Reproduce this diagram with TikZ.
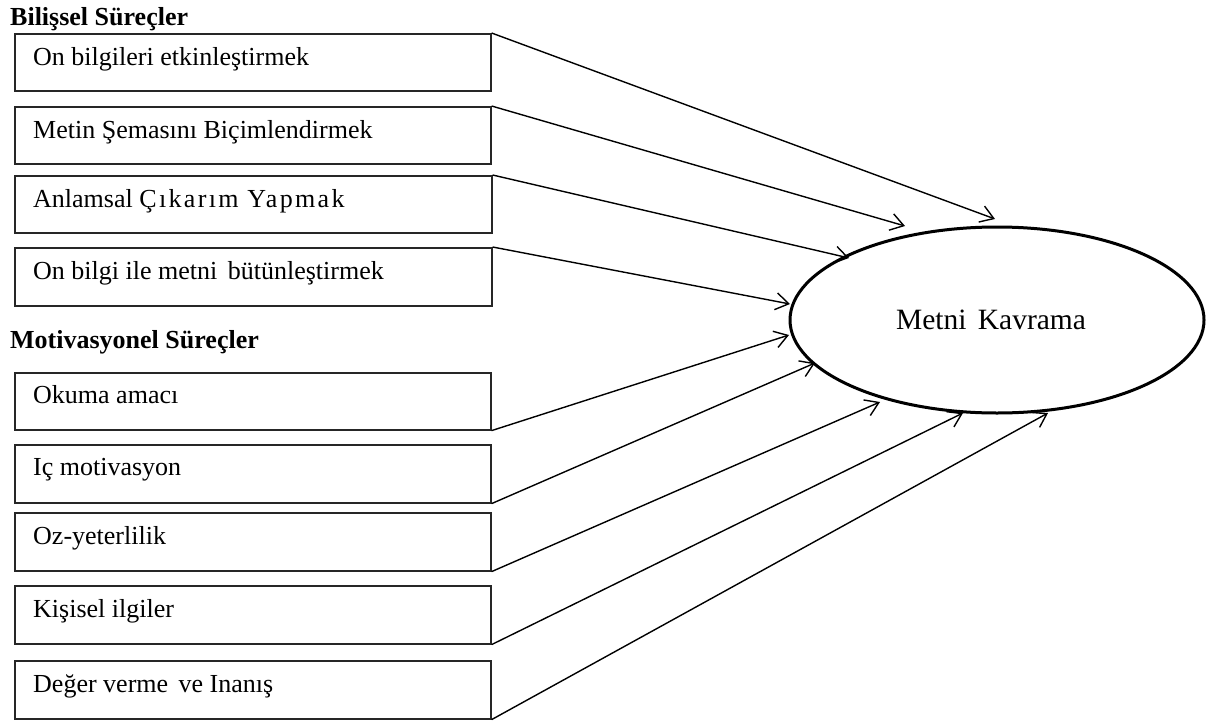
\documentclass[tikz,border=0pt]{standalone}
\usepackage{fontspec}
\setmainfont{Liberation Serif}
\usetikzlibrary{arrows.meta,shapes.geometric}
\begin{document}
\begin{tikzpicture}[x=1pt,y=-1pt,
  box/.style={draw=black!85,line width=1.6pt,rectangle,inner sep=0pt,anchor=north west},
  boxtext/.style={anchor=base west,inner sep=0pt,font=\fontsize{26}{30}\selectfont},
  head/.style={anchor=base west,inner sep=0pt,font=\fontsize{26}{30}\selectfont\bfseries},
  conn/.style={line width=1.4pt,-{Straight Barb[length=13pt,width=17pt,line width=1.4pt]}},
  goal/.style={draw,ellipse,line width=3pt,minimum width=414pt,minimum height=186pt,inner sep=0pt,font=\fontsize{29.5}{32}\selectfont}
]
\useasboundingbox (0,0) rectangle (1206,720);

\node[head] (h1) at (10,25) {Bilişsel Süreçler};
\node[head] (h2) at (10,348) {Motivasyonel Süreçler};

\node[box,minimum width=476pt,minimum height=57pt] (b1) at (14,33) {};
\node[box,minimum width=476pt,minimum height=57pt] (b2) at (14,106) {};
\node[box,minimum width=477pt,minimum height=57pt] (b3) at (14,175) {};
\node[box,minimum width=477pt,minimum height=58pt] (b4) at (14,247) {};
\node[box,minimum width=476pt,minimum height=57pt] (b5) at (14,372) {};
\node[box,minimum width=476pt,minimum height=58pt] (b6) at (14,444) {};
\node[box,minimum width=476pt,minimum height=58pt] (b7) at (14,512) {};
\node[box,minimum width=476pt,minimum height=58pt] (b8) at (14,585) {};
\node[box,minimum width=476pt,minimum height=58pt] (b9) at (14,660) {};

\node[boxtext] (t1) at (33,65) {On bilgileri etkinleştirmek};
\node[boxtext] (t2) at (33,138) {Metin Şemasını Biçimlendirmek};
\node[boxtext] (t3) at (33,207) {Anlamsal {\addfontfeature{LetterSpace=9}Çıkarım Yapmak}};
\node[boxtext] (t4) at (33,279) {On bilgi ile metni\hspace{4pt} bütünleştirmek};
\node[boxtext] (t5) at (33,403) {Okuma amacı};
\node[boxtext] (t6) at (33,475) {Iç motivasyon};
\node[boxtext] (t7) at (33,544) {Oz-yeterlilik};
\node[boxtext] (t8) at (33,617) {Kişisel ilgiler};
\node[boxtext] (t9) at (33,692) {Değer verme\hspace{4pt} ve Inanış};

\node[goal] (k) at (997,320) {Metni\hspace{4pt} Kavrama\rule{12pt}{0pt}};

\coordinate (e1) at (995,219);
\coordinate (e2) at (905,226);
\coordinate (e3) at (849,258);
\coordinate (e4) at (790,304);
\coordinate (e5) at (789,335);
\coordinate (e6) at (815,363);
\coordinate (e7) at (880,402);
\coordinate (e8) at (963,413);
\coordinate (e9) at (1048,413);

\draw[conn] (b1.north east) -- (e1);
\draw[conn] (b2.north east) -- (e2);
\draw[conn] (b3.north east) -- (e3);
\draw[conn] (b4.north east) -- (e4);
\draw[conn] (b5.south east) -- (e5);
\draw[conn] (b6.south east) -- (e6);
\draw[conn] (b7.south east) -- (e7);
\draw[conn] (b8.south east) -- (e8);
\draw[conn] (b9.south east) -- (e9);
\end{tikzpicture}
\end{document}
